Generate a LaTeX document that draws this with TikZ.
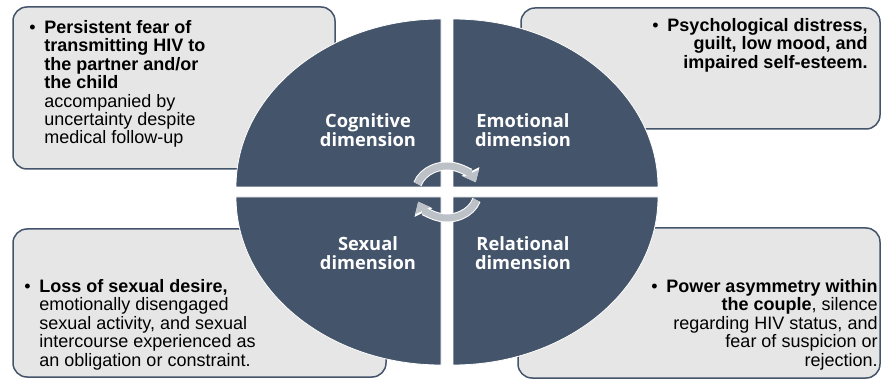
\documentclass[tikz,border=0pt]{standalone}
\usepackage{fontspec}
\setmainfont{Liberation Sans}
\newfontfamily\dimfont{Open Sans}
\usetikzlibrary{positioning, arrows.meta}

\definecolor{slate}{HTML}{44546A}
\definecolor{panel}{HTML}{E7E6E6}
\definecolor{cyclegray}{HTML}{BCC1C8}

\newcommand{\bul}{\makebox[15pt][l]{\textbullet}}

\begin{document}
\begin{tikzpicture}[
    x=1pt, y=1pt,
    panelbox/.style={draw=slate, line width=1.5pt, fill=panel, rounded corners=14pt, inner sep=0pt},
    paneltxt/.style={inner sep=0pt, font=\fontsize{18}{18.4}\selectfont},
    dimlabel/.style={align=center, text=white, inner sep=0pt, font=\dimfont\bfseries\fontsize{18.3}{19.5}\selectfont},
    quad/.style={fill=slate, draw=white, line width=0.8pt},
    cycedge/.style={line width=9pt, white, -{Triangle[width=19pt, length=12pt]}},
    cyc/.style={line width=7pt, cyclegray, -{Triangle[width=16pt, length=10pt]}}
  ]
  \useasboundingbox (0,0) rectangle (882,380);

  % Panels
  \node[panelbox, minimum width=322pt, minimum height=162pt] (cogbox) at (174,292) {};
  \node[panelbox, minimum width=359pt, minimum height=121pt] (emobox) at (700.5,311.5) {};
  \node[panelbox, minimum width=373pt, minimum height=148pt] (sexbox) at (199.5,77) {};
  \node[panelbox, minimum width=362pt, minimum height=150pt] (relbox) at (699,77) {};

  % Panel texts
  \node[paneltxt, align=left, below right=14pt and 32pt of cogbox.north west] (cogtxt)
    {\llap{\bul}\textbf{Persistent fear of}\\ \textbf{transmitting HIV to}\\ \textbf{the partner and/or}\\ \textbf{the child}\\ accompanied by\\ uncertainty despite\\ medical follow-up};
  \node[paneltxt, align=right, below left=11pt and 13pt of emobox.north east] (emotxt)
    {\bul\textbf{Psychological distress,}\\ \textbf{guilt, low mood, and}\\ \textbf{impaired self-esteem.}};
  \node[paneltxt, align=left, below right=51pt and 27pt of sexbox.north west] (sextxt)
    {\llap{\bul}\textbf{Loss of sexual desire,}\\ emotionally disengaged\\ sexual activity, and sexual\\ intercourse experienced as\\ an obligation or constraint.};
  \node[paneltxt, align=right, below left=52pt and 3pt of relbox.north east] (reltxt)
    {\bul\textbf{Power asymmetry within}\\ \textbf{the couple}, silence\\ regarding HIV status, and\\ fear of suspicion or\\ rejection.};

  % Quadrants of the pie
  \coordinate (hub) at (447,188);
  \fill[quad] (441,193) -- ++(-205,0) arc[start angle=180, end angle=90, x radius=205, y radius=168] -- cycle;
  \fill[quad] (453,193) -- ++(0,168) arc[start angle=90, end angle=0, x radius=205, y radius=168] -- cycle;
  \fill[quad] (441,183) -- ++(0,-168) arc[start angle=270, end angle=180, x radius=205, y radius=168] -- cycle;
  \fill[quad] (453,183) -- ++(205,0) arc[start angle=0, end angle=-90, x radius=205, y radius=168] -- cycle;

  % Dimension labels
  \node[dimlabel] (cog) at (368,250) {Cognitive\\dimension};
  \node[dimlabel] (emo) at (523,250) {Emotional\\dimension};
  \node[dimlabel] (sex) at (368,127) {Sexual\\dimension};
  \node[dimlabel] (rel) at (523,127) {Relational\\dimension};

  % Cycle arrows
  \draw[cycedge] ([shift={(162:31 and 26)}]hub) arc[start angle=162, end angle=22, x radius=31, y radius=26];
  \draw[cyc] ([shift={(162:31 and 26)}]hub) arc[start angle=162, end angle=22, x radius=31, y radius=26];
  \draw[cycedge] ([shift={(-18:31 and 26)}]hub) arc[start angle=-18, end angle=-158, x radius=31, y radius=26];
  \draw[cyc] ([shift={(-18:31 and 26)}]hub) arc[start angle=-18, end angle=-158, x radius=31, y radius=26];
\end{tikzpicture}
\end{document}
